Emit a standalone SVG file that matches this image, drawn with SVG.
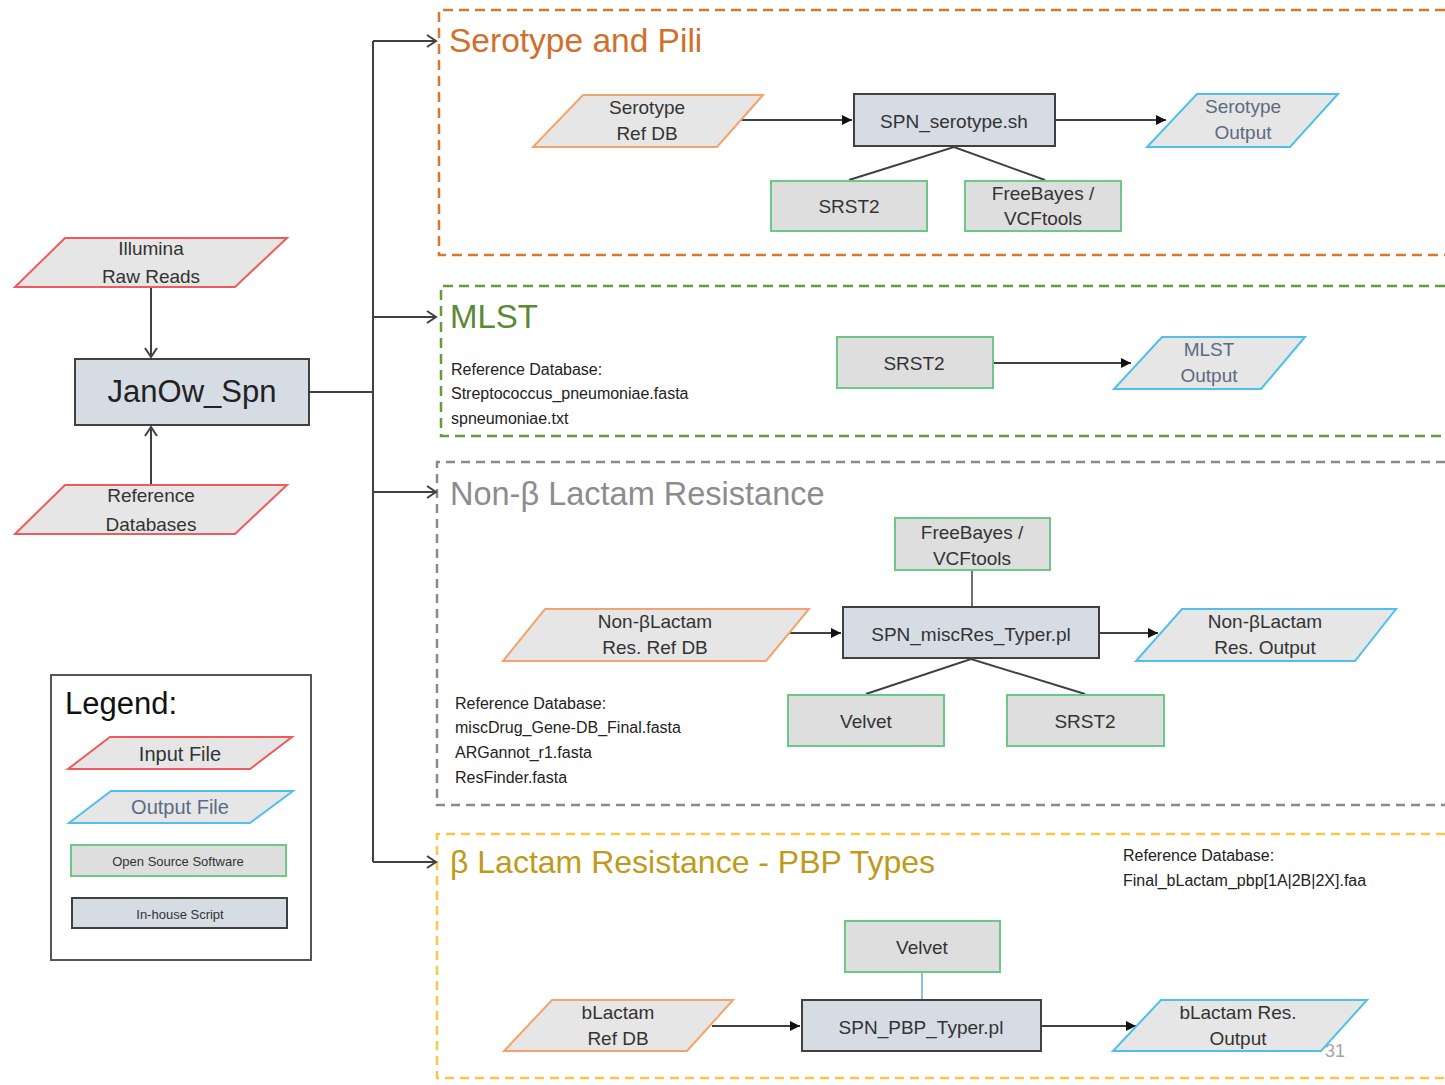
<svg xmlns="http://www.w3.org/2000/svg" width="1445" height="1085" viewBox="0 0 1445 1085">
<defs>
<style>
text{font-family:"Liberation Sans",Arial,sans-serif;fill:#333;}
.c{text-anchor:middle;}
.in{fill:#e6e6e6;stroke:#f05a5a;stroke-width:2;}
.ref{fill:#e6e6e6;stroke:#f4a36a;stroke-width:2;}
.out{fill:#e6e6e6;stroke:#4fc0ea;stroke-width:2;}
.oss{fill:#dedede;stroke:#6cc985;stroke-width:2;}
.scr{fill:#d6dce4;stroke:#404040;stroke-width:2;}
.ot{fill:#5b6b82;}
.n{font-size:19px;}
.ln{stroke:#404040;stroke-width:2;fill:none;}
.db{font-size:16px;fill:#222;}
</style>
<marker id="open" markerWidth="14" markerHeight="14" refX="11" refY="7" orient="auto" markerUnits="userSpaceOnUse">
<path d="M2,1 L11,7 L2,13" fill="none" stroke="#404040" stroke-width="2"/>
</marker>
<marker id="fill" markerWidth="12" markerHeight="12" refX="10" refY="6" orient="auto" markerUnits="userSpaceOnUse">
<path d="M0,1 L10,6 L0,11 Z" fill="#111"/>
</marker>
</defs>
<rect width="1445" height="1085" fill="#fff"/>

<!-- section boxes -->
<g id="serotype-box">
<path d="M1445,10 H439 V255 H1445" fill="none" stroke="#d9782f" stroke-width="2.5" stroke-dasharray="10,6"/>
<text x="449" y="52" style="font-size:33.5px;fill:#d0702a">Serotype and Pili</text>
</g>
<g id="mlst-box">
<path d="M1445,286 H441 V436 H1445" fill="none" stroke="#6a9a3f" stroke-width="2.5" stroke-dasharray="10,6"/>
<text x="450" y="328" style="font-size:33px;fill:#5a8a35">MLST</text>
<text x="451" y="375" class="db">Reference Database:</text>
<text x="451" y="399" class="db">Streptococcus_pneumoniae.fasta</text>
<text x="451" y="424" class="db">spneumoniae.txt</text>
</g>
<g id="nonbeta-box">
<path d="M1445,462 H437 V805 H1445" fill="none" stroke="#8a8a8a" stroke-width="2.5" stroke-dasharray="9,6"/>
<text x="450" y="505" style="font-size:32.5px;fill:#8c8c8c">Non-β Lactam Resistance</text>
<text x="455" y="709" class="db">Reference Database:</text>
<text x="455" y="733" class="db">miscDrug_Gene-DB_Final.fasta</text>
<text x="455" y="758" class="db">ARGannot_r1.fasta</text>
<text x="455" y="783" class="db">ResFinder.fasta</text>
</g>
<g id="beta-box">
<path d="M1445,834 H437 V1078 H1445" fill="none" stroke="#f5c84a" stroke-width="2.5" stroke-dasharray="9,6"/>
<text x="450" y="873" style="font-size:32px;fill:#c09a1a">β Lactam Resistance - PBP Types</text>
<text x="1123" y="861" class="db">Reference Database:</text>
<text x="1123" y="886" class="db">Final_bLactam_pbp[1A|2B|2X].faa</text>
</g>

<!-- connectors -->
<g id="connectors">
<line class="ln" x1="151" y1="288" x2="151" y2="357" marker-end="url(#open)"/>
<line class="ln" x1="151" y1="485" x2="151" y2="427" marker-end="url(#open)"/>
<polyline class="ln" points="309,392 373,392"/>
<line class="ln" x1="373" y1="41" x2="373" y2="862"/>
<line class="ln" x1="373" y1="41" x2="436" y2="41" marker-end="url(#open)"/>
<line class="ln" x1="373" y1="317" x2="436" y2="317" marker-end="url(#open)"/>
<line class="ln" x1="373" y1="492" x2="436" y2="492" marker-end="url(#open)"/>
<line class="ln" x1="373" y1="862" x2="436" y2="862" marker-end="url(#open)"/>
<line class="ln" x1="740" y1="120" x2="852" y2="120" marker-end="url(#fill)"/>
<line class="ln" x1="1056" y1="120" x2="1166" y2="120" marker-end="url(#fill)"/>
<polyline class="ln" points="849,180 954,147 1045,180"/>
<line class="ln" x1="993" y1="363" x2="1131" y2="363" marker-end="url(#fill)"/>
<line class="ln" x1="972" y1="570" x2="972" y2="607" style="stroke-width:1.5"/>
<line class="ln" x1="780" y1="633" x2="841" y2="633" marker-end="url(#fill)"/>
<line class="ln" x1="1100" y1="633" x2="1158" y2="633" marker-end="url(#fill)"/>
<polyline class="ln" points="866,694 971,659 1085,694"/>
<line x1="922" y1="972" x2="922" y2="1000" stroke="#6aa6dc" stroke-width="1.5"/>
<line class="ln" x1="712" y1="1026" x2="800" y2="1026" marker-end="url(#fill)"/>
<line class="ln" x1="1042" y1="1026" x2="1136" y2="1026" marker-end="url(#fill)"/>
</g>

<!-- main nodes -->
<g id="illumina">
<polygon class="in" points="65,238 287,238 235,287 15,287"/>
<text x="151" y="255" class="c n">Illumina</text>
<text x="151" y="283" class="c n">Raw Reads</text>
</g>
<g id="janow">
<rect class="scr" x="75" y="359" width="234" height="66"/>
<text x="192" y="402" class="c" style="font-size:31px;fill:#222">JanOw_Spn</text>
</g>
<g id="refdbs">
<polygon class="in" points="65,485 287,485 235,534 15,534"/>
<text x="151" y="502" class="c n">Reference</text>
<text x="151" y="531" class="c n">Databases</text>
</g>

<!-- serotype -->
<g id="sero-ref">
<polygon class="ref" points="583,95 763,95 717,147 533,147"/>
<text x="647" y="114" class="c n">Serotype</text>
<text x="647" y="140" class="c n">Ref DB</text>
</g>
<g id="sero-script">
<rect class="scr" x="854" y="94" width="201" height="52"/>
<text x="954" y="128" class="c n">SPN_serotype.sh</text>
</g>
<g id="sero-out">
<polygon class="out" points="1197,94 1338,94 1290,147 1147,147"/>
<text x="1243" y="113" class="c n ot">Serotype</text>
<text x="1243" y="139" class="c n ot">Output</text>
</g>
<g id="sero-srst2">
<rect class="oss" x="771" y="181" width="156" height="50"/>
<text x="849" y="213" class="c n">SRST2</text>
</g>
<g id="sero-freebayes">
<rect class="oss" x="965" y="181" width="156" height="50"/>
<text x="1043" y="200" class="c n">FreeBayes /</text>
<text x="1043" y="225" class="c n">VCFtools</text>
</g>

<!-- MLST -->
<g id="mlst-srst2">
<rect class="oss" x="837" y="337" width="156" height="51"/>
<text x="914" y="370" class="c n">SRST2</text>
</g>
<g id="mlst-out">
<polygon class="out" points="1162,337 1305,337 1261,389 1114,389"/>
<text x="1209" y="356" class="c n ot">MLST</text>
<text x="1209" y="382" class="c n ot">Output</text>
</g>

<!-- Non-beta -->
<g id="nb-freebayes">
<rect class="oss" x="895" y="518" width="155" height="52"/>
<text x="972" y="539" class="c n">FreeBayes /</text>
<text x="972" y="565" class="c n">VCFtools</text>
</g>
<g id="nb-script">
<rect class="scr" x="843" y="607" width="256" height="51"/>
<text x="971" y="641" class="c n">SPN_miscRes_Typer.pl</text>
</g>
<g id="nb-ref">
<polygon class="ref" points="545,609 809,609 766,661 503,661"/>
<text x="655" y="628" class="c n">Non-βLactam</text>
<text x="655" y="654" class="c n">Res. Ref DB</text>
</g>
<g id="nb-out">
<polygon class="out" points="1182,609 1396,609 1355,661 1136,661"/>
<text x="1265" y="628" class="c n">Non-βLactam</text>
<text x="1265" y="654" class="c n">Res. Output</text>
</g>
<g id="nb-velvet">
<rect class="oss" x="788" y="695" width="156" height="51"/>
<text x="866" y="728" class="c n">Velvet</text>
</g>
<g id="nb-srst2">
<rect class="oss" x="1007" y="695" width="157" height="51"/>
<text x="1085" y="728" class="c n">SRST2</text>
</g>

<!-- Beta lactam -->
<g id="b-velvet">
<rect class="oss" x="845" y="921" width="155" height="51"/>
<text x="922" y="954" class="c n">Velvet</text>
</g>
<g id="b-script">
<rect class="scr" x="802" y="1000" width="239" height="51"/>
<text x="921" y="1034" class="c n">SPN_PBP_Typer.pl</text>
</g>
<g id="b-ref">
<polygon class="ref" points="552,1000 733,1000 687,1051 504,1051"/>
<text x="618" y="1019" class="c n">bLactam</text>
<text x="618" y="1045" class="c n">Ref DB</text>
</g>
<g id="b-out">
<polygon class="out" points="1161,1000 1367,1000 1321,1051 1113,1051"/>
<text x="1238" y="1019" class="c n">bLactam Res.</text>
<text x="1238" y="1045" class="c n">Output</text>
</g>
<text x="1325" y="1057" style="font-size:18px;fill:#a6a6a6">31</text>

<!-- legend -->
<g id="legend">
<rect x="51" y="675" width="260" height="285" fill="#fff" stroke="#555" stroke-width="2"/>
<text x="65" y="714" style="font-size:31px;fill:#111">Legend:</text>
<polygon class="in" points="110,737 292,737 250,769 68,769"/>
<text x="180" y="761" class="c" style="font-size:20px">Input File</text>
<polygon class="out" points="111,791 293,791 250,823 69,823"/>
<text x="180" y="814" class="c ot" style="font-size:20px">Output File</text>
<rect class="oss" x="71" y="845" width="215" height="31"/>
<text x="178" y="866" class="c" style="font-size:13px">Open  Source Software</text>
<rect class="scr" x="72" y="898" width="215" height="30"/>
<text x="180" y="919" class="c" style="font-size:13px">In-house  Script</text>
</g>
</svg>
